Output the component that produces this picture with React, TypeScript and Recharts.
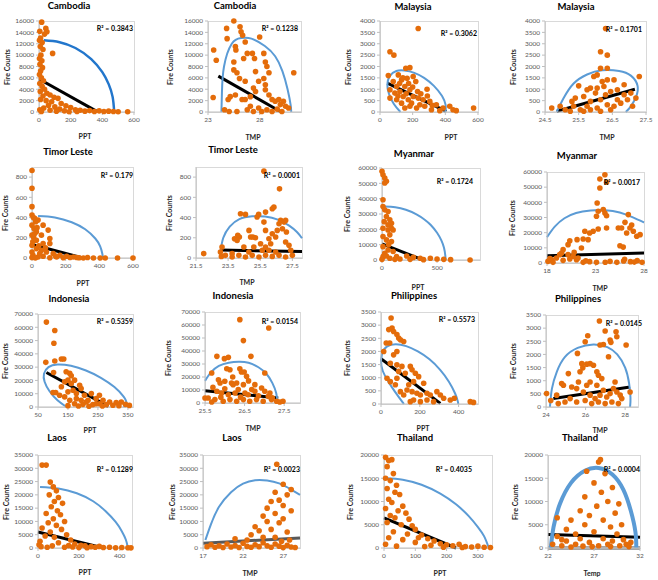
import { ComposedChart, Scatter, Line, XAxis, YAxis } from 'recharts';

type Pt = [number, number];

const FONT = 'Lato, "Open Sans", Arial, sans-serif';
const ORANGE = '#E46C0A';
const BLUE = '#5B9BD5';

// tick sets
const ticks600 = [0, 200, 400, 600];
const ticks16k = [0, 2000, 4000, 6000, 8000, 10000, 12000, 14000, 16000];
const ticks4k = [0, 500, 1000, 1500, 2000, 2500, 3000, 3500, 4000];
const ticks800 = [0, 200, 400, 600, 800];
const ticks60k = [0, 10000, 20000, 30000, 40000, 50000, 60000];
const ticks70k = [0, 10000, 20000, 30000, 40000, 50000, 60000, 70000];
const ticks3500 = [0, 500, 1000, 1500, 2000, 2500, 3000, 3500];
const ticks35k = [0, 5000, 10000, 15000, 20000, 25000, 30000, 35000];
const ticks20k = [0, 5000, 10000, 15000, 20000];

// ---- Cambodia ----
const cambodiaPpt: Pt[] = [
  [17, 15800], [43, 14700], [50, 14100], [5, 14200], [35, 13700], [10, 13000], [3, 12600], [20, 12200],
  [8, 11500], [25, 11000], [86, 10300], [12, 10000], [3, 9400], [18, 9000], [6, 8400], [22, 7800],
  [10, 7200], [3, 6600], [15, 6000], [28, 5500], [5, 5000], [20, 4500], [35, 4000], [8, 3600],
  [50, 3300], [70, 3000], [25, 2800], [95, 2600], [120, 2400], [10, 2200], [45, 2000], [80, 1800],
  [140, 1500], [60, 1200], [170, 1100], [100, 900], [200, 800], [30, 700], [5, 400], [130, 500],
  [230, 400], [70, 300], [160, 200], [260, 300], [290, 150], [320, 250], [350, 100], [380, 200],
  [410, 100], [440, 150], [470, 80], [500, 50], [560, 50], [15, 100], [110, 150], [190, 50], [240, 100],
];
const cambodiaPptTrend: Pt[] = [[0, 5800], [365, 100]];
const cambodiaPptArc: Pt[] = [
  [30, 12600], [130, 12280], [230, 11250], [330, 9310], [400, 7000], [440, 4900], [465, 2660], [475, 0],
];

const cambodiaTmp: Pt[] = [
  [23.5, 2560], [23.55, 10900], [23.8, 9100], [24.8, 14700], [24.85, 12900], [25.5, 16000], [26.1, 15000],
  [26.2, 14100], [26.35, 13500], [25.65, 11500], [25.7, 10900], [26.6, 12300], [26.8, 10300], [26.45, 9400],
  [25.5, 8800], [25.8, 6900], [25.5, 7400], [26.05, 5900], [26.6, 5400], [27.3, 10300], [27.5, 9400],
  [28.0, 13200], [27.6, 7100], [28.4, 10300], [28.55, 8800], [28.7, 8000], [28.9, 6900], [28.4, 5900],
  [28.55, 4800], [27.9, 5400], [27.4, 4200], [27.6, 3600], [28.55, 3900], [28.9, 3000], [29.2, 2200],
  [29.5, 1900], [29.85, 2200], [30.3, 1900], [30.5, 1000], [30.0, 1300], [31.3, 6900], [24.95, 2200],
  [25.15, 2700], [25.65, 3000], [26.3, 2200], [24.6, 400], [25.05, 100], [25.8, 100], [26.8, 400],
  [27.1, 1000], [27.4, 100], [27.9, 700], [28.2, 100], [28.7, 400], [29.2, 100], [29.7, 500], [30.15, 100],
  [30.8, 700], [26.6, 2200], [27.1, 2700],
];
const cambodiaTmpTrend: Pt[] = [[24.0, 6300], [30.0, 100]];
const cambodiaTmpArc: Pt[] = [
  [24.3, 0], [24.35, 3500], [24.55, 8000], [25.3, 12000], [26.2, 13000], [27.2, 12900], [28.5, 11600],
  [29.5, 9800], [30.2, 7200], [30.7, 4000], [31.0, 1200], [31.05, 0],
];

// ---- Malaysia ----
const malaysiaPpt: Pt[] = [
  [61, 2650], [85, 2500], [158, 1920], [183, 1950], [234, 3670], [51, 1600], [112, 1630], [132, 1410],
  [166, 1480], [203, 1560], [219, 1340], [288, 1000], [81, 1340], [102, 1120], [61, 975], [122, 900],
  [152, 1120], [183, 975], [142, 680], [173, 540], [203, 680], [234, 610], [264, 540], [305, 465],
  [345, 320], [386, 175], [427, 250], [447, 100], [467, 60], [573, 175], [102, 540], [132, 390],
  [183, 250], [224, 175], [274, 250], [315, 100], [366, 60], [193, 390], [244, 320], [152, 175],
  [61, 610], [91, 830], [120, 1250], [140, 1500], [175, 1250], [200, 1100], [250, 800], [230, 900],
  [290, 700], [320, 300], [160, 800], [110, 700],
];
const malaysiaPptTrend: Pt[] = [[45, 1270], [406, 30]];
const malaysiaPptArc: Pt[] = [
  [125, 0], [85, 350], [55, 800], [45, 1200], [60, 1580], [100, 1800], [150, 1820], [210, 1720],
  [270, 1500], [330, 1150], [380, 700], [402, 300], [400, 0],
];

const malaysiaTmp: Pt[] = [
  [26.3, 3670], [26.15, 2650], [26.35, 2500], [26.15, 1920], [26.35, 1920], [25.95, 1560], [26.05, 1630],
  [26.55, 1410], [26.35, 1410], [25.5, 1150], [27.3, 1560], [27.2, 610], [25.85, 1050], [26.0, 830],
  [25.65, 680], [25.4, 610], [25.35, 250], [24.7, 175], [24.95, 250], [25.1, 100], [25.25, 30],
  [25.55, 100], [25.75, 250], [25.85, 465], [26.15, 540], [26.3, 760], [26.45, 900], [26.65, 975],
  [26.85, 760], [26.95, 540], [26.75, 390], [26.55, 250], [26.35, 320], [26.05, 175], [25.85, 100],
  [25.65, 30], [26.85, 1200], [27.05, 830], [27.1, 250], [26.45, 100], [26.15, 30], [26.65, 540],
  [26.25, 1120], [25.75, 975], [25.3, 465], [26.05, 1050], [26.2, 1340],
];
const malaysiaTmpTrend: Pt[] = [[24.85, 30], [27.17, 1000]];
const malaysiaTmpArc: Pt[] = [
  [24.85, 0], [25.05, 600], [25.35, 1250], [25.75, 1650], [26.2, 1830], [26.7, 1800], [27.05, 1600],
  [27.25, 1150], [27.2, 650], [27.05, 250], [26.9, 0],
];

// ---- Timor Leste ----
const timorPpt: Pt[] = [
  [0, 866], [0, 690], [0, 508], [0, 425], [16, 392], [22, 359], [36, 375], [0, 325], [12, 292], [26, 259],
  [0, 226], [10, 202], [66, 325], [96, 276], [56, 226], [26, 176], [106, 193], [66, 143], [106, 143],
  [0, 126], [26, 93], [56, 76], [86, 60], [126, 43], [166, 27], [206, 17], [246, 10], [305, 0], [365, 0],
  [405, 0], [435, 0], [508, 0], [600, 0], [6, 27], [36, 10], [66, 17], [106, 3], [146, 10], [186, 3],
  [226, 5], [266, 5], [0, 60], [46, 43], [5, 160], [15, 240], [30, 300], [8, 400], [40, 120], [80, 100],
  [140, 20], [0, 5], [20, 0], [330, 5], [280, 3],
];
const timorPptTrend: Pt[] = [[0, 133], [295, 3]];
const timorPptArc: Pt[] = [
  [36, 415], [136, 401], [236, 354], [316, 284], [376, 193], [405, 115], [418, 40], [420, 0],
];

const timorTmp: Pt[] = [
  [21.98, 43], [23.02, 59], [23.08, 16], [23.12, 109], [23.9, 190], [24.1, 224], [24.2, 207], [24.27, 438],
  [24.58, 431], [24.48, 109], [24.8, 273], [24.9, 207], [25.04, 207], [25.2, 200], [25.3, 405], [25.4, 431],
  [25.73, 859], [25.73, 355], [25.83, 273], [26.04, 191], [26.15, 141], [26.25, 487], [26.35, 503],
  [25.83, 109], [26.46, 207], [26.56, 273], [26.67, 339], [26.77, 372], [26.7, 684], [26.88, 290],
  [26.98, 355], [27.08, 372], [27.13, 257], [27.08, 158], [27.29, 125], [27.4, 76], [27.5, 26],
  [23.33, 26], [23.75, 10], [24.17, 26], [24.58, 10], [25.0, 26], [25.42, 10], [25.83, 26], [26.25, 16],
  [26.67, 26], [27.08, 10], [23.75, 43], [24.79, 59], [25.63, 76], [26.46, 59], [26.04, 76], [25.52, 141],
  [25.1, 109], [24.06, 174], [26.25, 240], [25.83, 454],
];
const timorTmpTrend: Pt[] = [[23.0, 78], [28.1, 65]];
const timorTmpArc: Pt[] = [
  [23.02, 60], [23.2, 200], [23.6, 310], [24.2, 385], [25.0, 412], [25.8, 410], [26.6, 380], [27.3, 320],
  [27.8, 255], [28.1, 195],
];

// ---- Myanmar ----
const myanmarPpt: Pt[] = [
  [0, 57800], [9, 55600], [25, 53500], [40, 51300], [25, 50200], [9, 39300], [9, 34900], [25, 32700],
  [55, 31600], [40, 28400], [71, 26200], [55, 22900], [86, 24000], [9, 20700], [55, 19600], [86, 20700],
  [101, 19600], [71, 16400], [9, 15300], [40, 13100], [86, 12000], [9, 8700], [55, 6500], [101, 5500],
  [25, 4400], [9, 2200], [132, 2200], [224, 2600], [285, 1700], [347, 1100], [439, 1100], [500, 650],
  [561, 440], [623, 220], [800, 0], [71, 1100], [163, 650], [255, 440], [377, 220], [0, 440], [117, 440],
  [40, 2600], [20, 25000], [60, 10000],
];
const myanmarPptTrend: Pt[] = [[0, 10500], [365, 200]];
const myanmarPptArc: Pt[] = [
  [25, 34900], [121, 34370], [217, 32730], [313, 29780], [385, 26450], [443, 22830], [500, 17760],
  [539, 12780], [563, 7950], [575, 2900], [577, 0],
];

const myanmarTmp: Pt[] = [
  [23.97, 58200], [23.45, 55400], [24.14, 53200], [23.45, 49500], [23.17, 39600], [23.28, 34100],
  [23.8, 35200], [23.97, 33000], [24.14, 31200], [23.1, 30800], [24.14, 23100], [23.28, 22400],
  [22.76, 20900], [22.4, 19800], [21.9, 20900], [21.73, 15800], [22.24, 15400], [21.1, 15400],
  [20.35, 14700], [20.17, 12100], [21.55, 9900], [19.66, 8800], [19.31, 5500], [20.17, 5500], [20.7, 4400],
  [18.97, 3300], [18.45, 2200], [18.1, 1100], [18.62, 440], [19.66, 1760], [21.04, 2200], [21.73, 440],
  [22.4, 880], [23.1, 440], [24.5, 1100], [25.2, 440], [25.9, 1320], [26.6, 880], [27.3, 1540], [27.8, 440],
  [25.35, 23100], [25.69, 23100], [25.52, 11400], [25.86, 10500], [26.21, 19800], [26.04, 26800],
  [26.38, 31900], [26.55, 23100], [26.73, 25100], [27.25, 17600], [27.6, 18700], [26.9, 20900],
  [21.2, 3300], [20.35, 2600], [19.5, 6500], [20.8, 7000], [18.3, 3000], [22.0, 1500], [24.0, 500],
  [26.0, 2500], [27.0, 600],
];
const myanmarTmpTrend: Pt[] = [[18, 4800], [28, 6600]];
const myanmarTmpArc: Pt[] = [
  [18, 17000], [18.8, 24000], [19.8, 29500], [21, 33000], [22.5, 34600], [24, 34800], [25.5, 33300],
  [26.8, 30200], [28, 26700],
];

// ---- Indonesia ----
const indonesiaPpt: Pt[] = [
  [78, 63900], [106, 57600], [103, 48000], [106, 34600], [76, 33600], [128, 36100], [136, 36100],
  [102, 26000], [144, 26500], [156, 25300], [161, 23500], [100, 10900], [109, 10900], [139, 19000],
  [150, 20200], [161, 17700], [189, 16400], [194, 13900], [167, 12600], [150, 11400], [178, 10100],
  [139, 7600], [156, 5100], [178, 6300], [205, 8800], [228, 10100], [217, 5100], [244, 6300], [255, 8800],
  [267, 5100], [289, 3800], [311, 3300], [328, 3800], [342, 2000], [172, 2500], [200, 2000], [233, 1800],
  [256, 2500], [278, 1800], [300, 1300], [194, 5100], [122, 8800], [128, 15200], [172, 20200],
  [211, 3800], [244, 2500], [150, 1000], [185, 800], [220, 600], [265, 700], [320, 900], [355, 1200],
];
const indonesiaPptTrend: Pt[] = [[78, 26000], [285, 500]];
const indonesiaPptArc: Pt[] = [
  [145, 0], [115, 5000], [88, 12000], [72, 19000], [70, 25000], [85, 30000], [115, 32000], [160, 31000],
  [210, 27500], [260, 22000], [305, 15000], [335, 8000], [345, 3000], [335, 0],
];

const indonesiaTmp: Pt[] = [
  [26.38, 64100], [27.11, 57700], [26.47, 48000], [25.8, 35900], [25.99, 34100], [26.09, 35100],
  [26.66, 35900], [25.67, 23100], [26.05, 26400], [26.13, 25600], [26.38, 26400], [26.42, 23800],
  [26.49, 23800], [26.55, 20500], [26.47, 14100], [25.84, 17900], [25.88, 15400], [26.0, 16700],
  [26.17, 15400], [26.21, 14100], [26.3, 15400], [27.01, 23100], [26.76, 14100], [26.68, 10300],
  [26.76, 9000], [26.93, 11500], [27.01, 9000], [27.1, 5100], [27.14, 7700], [25.8, 9000], [25.92, 7700],
  [26.09, 6400], [26.26, 7700], [26.34, 10300], [26.51, 7700], [26.59, 6400], [25.58, 3800], [25.75, 2600],
  [25.96, 1300], [26.13, 2600], [26.3, 1300], [26.47, 2600], [26.63, 1300], [26.8, 2600], [26.97, 1300],
  [27.18, 2600], [27.31, 1300], [27.39, 800], [27.47, 1300], [25.67, 800], [25.5, 3800], [25.7, 12000],
  [26.0, 11000], [26.2, 20000], [26.6, 17000], [27.2, 4000], [25.9, 4500], [26.4, 4500], [26.85, 5500],
];
const indonesiaTmpTrend: Pt[] = [[25.5, 9500], [27.35, 3800]];
const indonesiaTmpArc: Pt[] = [
  [25.5, 17000], [25.65, 23500], [25.85, 28500], [26.1, 31000], [26.35, 31800], [26.6, 31000],
  [26.85, 27500], [27.05, 22500], [27.2, 15500], [27.3, 7500], [27.33, 0],
];

// ---- Philippines ----
const philippinesPpt: Pt[] = [
  [52, 3270], [40, 2830], [57, 2890], [65, 2760], [27, 2320], [45, 2320], [82, 2640], [91, 2510],
  [100, 2440], [117, 2380], [82, 2000], [14, 2000], [65, 1870], [82, 1490], [48, 1550], [108, 1430],
  [151, 1430], [160, 1300], [177, 1170], [194, 1040], [220, 790], [31, 980], [48, 850], [74, 730],
  [100, 470], [117, 340], [143, 730], [168, 850], [134, 530], [160, 470], [185, 410], [203, 340],
  [237, 410], [254, 340], [288, 470], [306, 340], [323, 220], [357, 150], [378, 220], [460, 90],
  [477, 60], [168, 150], [203, 90], [237, 150], [271, 90], [151, 90], [82, 980], [125, 1170], [91, 1240],
];
const philippinesPptTrend: Pt[] = [[0, 1720], [306, 25]];
const philippinesPptArc: Pt[] = [
  [118, 0], [90, 280], [55, 650], [22, 1050], [2, 1450], [5, 1900], [30, 2180], [75, 2270], [130, 2200],
  [190, 2000], [250, 1700], [305, 1300], [350, 850], [382, 400], [396, 100], [398, 0],
];

const philippinesTmp: Pt[] = [
  [26.7, 3270], [26.99, 2890], [27.54, 2860], [27.58, 2670], [27.24, 2550], [27.28, 2460], [26.11, 2710],
  [25.98, 2480], [26.9, 2380], [26.73, 2360], [28.05, 2360], [25.59, 2040], [26.23, 1650], [25.81, 1650],
  [25.86, 1490], [26.06, 1630], [26.4, 1590], [26.57, 1340], [26.65, 1210], [26.82, 1080], [27.16, 1910],
  [25.72, 1340], [25.64, 950], [26.06, 830], [26.23, 950], [26.57, 830], [26.9, 640], [25.13, 1270],
  [24.79, 890], [24.88, 830], [24.03, 510], [24.24, 250], [24.54, 450], [25.3, 760], [25.55, 700],
  [25.89, 570], [26.23, 450], [26.48, 320], [26.73, 450], [27.07, 380], [27.24, 510], [27.41, 700],
  [27.49, 950], [27.58, 570], [27.75, 450], [27.83, 320], [28.25, 570], [25.22, 320], [25.55, 190],
  [25.98, 250], [26.31, 130], [26.65, 190], [26.99, 130], [27.33, 190], [27.66, 130], [24.96, 190],
  [24.62, 130],
];
const philippinesTmpTrend: Pt[] = [[24.37, 320], [28.25, 760]];
const philippinesTmpArc: Pt[] = [
  [24.2, 0], [24.3, 700], [24.55, 1350], [24.95, 1900], [25.6, 2250], [26.4, 2380], [27.1, 2280],
  [27.6, 2000], [28.0, 1500], [28.2, 900], [28.27, 350], [28.25, 0],
];

// ---- Laos ----
const laosPpt: Pt[] = [
  [20, 31200], [40, 31200], [60, 24800], [75, 23000], [90, 21500], [55, 20000], [100, 19000], [80, 17500],
  [120, 16800], [65, 15500], [95, 14000], [40, 13000], [110, 12500], [75, 11000], [130, 10000], [50, 9500],
  [90, 8500], [20, 7500], [115, 7000], [60, 6000], [140, 5000], [35, 4500], [80, 4000], [160, 3000],
  [10, 2500], [100, 2000], [180, 1500], [210, 1000], [230, 800], [260, 500], [280, 300], [300, 600],
  [320, 200], [350, 300], [380, 100], [410, 200], [440, 100], [455, 50], [15, 500], [45, 300], [70, 800],
  [130, 300], [200, 200], [240, 100], [5, 1200], [150, 900], [170, 400],
];
const laosPptTrend: Pt[] = [[0, 6000], [320, 0]];
const laosPptArc: Pt[] = [
  [10, 23000], [100, 22400], [190, 20600], [270, 17600], [330, 13900], [380, 9800], [410, 6300],
  [430, 3100], [440, 0],
];

const laosTmp: Pt[] = [
  [17.5, 500], [18, 1200], [18.5, 300], [19, 800], [19.5, 200], [20, 1500], [20.5, 400], [21, 900],
  [21.5, 200], [22, 1800], [22.5, 600], [23, 300], [23.5, 1200], [24, 500], [24.5, 2000], [25, 800],
  [25.5, 300], [26, 1500], [26.5, 700], [27, 200], [27.5, 1000], [28, 400], [28.5, 200], [23, 5000],
  [23.5, 8000], [24, 6500], [24.5, 12000], [25, 10000], [25, 15000], [25.5, 17500], [25.5, 7000],
  [26, 21000], [26, 13000], [26.5, 18000], [26.5, 9500], [27, 24000], [27, 16000], [27, 11000],
  [27.5, 20000], [27.5, 6000], [28, 14000], [28, 22000], [26.2, 31500], [24.5, 4000], [22.5, 3000],
  [21, 3500], [26, 4000], [26.8, 2500], [27.8, 3000],
];
const laosTmpTrend: Pt[] = [[17, 1800], [29.1, 3800]];
const laosTmpArc: Pt[] = [
  [17.3, 3000], [18, 9000], [19, 15500], [20.5, 21000], [22, 24200], [23.5, 25500], [25, 25400],
  [26.5, 24300], [28, 22000], [29.1, 20000],
];

// ---- Thailand ----
const thailandPpt: Pt[] = [
  [5, 19500], [15, 18800], [25, 19000], [10, 17500], [30, 16000], [5, 15000], [20, 14500], [40, 13500],
  [10, 12800], [35, 12000], [50, 11500], [15, 10500], [25, 9800], [60, 9000], [5, 8500], [45, 8000],
  [70, 7500], [20, 7000], [35, 6500], [80, 6200], [10, 5500], [55, 5000], [90, 4800], [100, 4000],
  [30, 3500], [75, 3000], [120, 2800], [15, 2200], [140, 2000], [60, 1800], [160, 1500], [100, 1200],
  [180, 900], [200, 700], [220, 500], [240, 800], [260, 300], [280, 200], [300, 400], [320, 150],
  [340, 100], [5, 800], [40, 400], [130, 300], [190, 150], [110, 2200], [150, 600], [250, 100],
];
const thailandPptTrend: Pt[] = [[0, 6500], [230, 0]];
const thailandPptArc: Pt[] = [
  [5, 15000], [60, 14700], [120, 13600], [180, 11700], [230, 9400], [270, 6900], [300, 4500],
  [320, 2500], [335, 0],
];

const thailandTemp: Pt[] = [
  [22.5, 800], [23, 2500], [23.5, 500], [24, 4000], [24, 1500], [24.5, 6000], [25, 3000], [25, 800],
  [25.5, 8000], [25.5, 2000], [26, 5000], [26, 11000], [26.5, 1200], [26.5, 7000], [27, 14000],
  [27, 3500], [27.3, 9000], [27.5, 18500], [27.7, 19000], [27.8, 12000], [28, 6000], [28, 2000],
  [28.2, 16000], [28.5, 10000], [28.5, 800], [28.8, 4500], [29, 13000], [29, 1500], [29.3, 7500],
  [29.5, 3000], [29.8, 500], [30, 5000], [30.2, 1800], [30.5, 800], [31, 1200], [26.8, 300], [25.8, 400],
  [24.5, 200], [23.5, 1800], [27.5, 500], [28.8, 300], [30.8, 300], [23, 6500], [26.2, 16500], [29.7, 9500],
];
const thailandTempTrend: Pt[] = [[22, 2900], [32, 2300]];
const thailandTempBase: Pt[] = [[22, 0], [32, 0]];
const thailandTempArc: Pt[] = [
  [22.3, 0], [22.6, 4500], [23.3, 9500], [24.5, 14000], [26, 16600], [27.5, 17200], [29, 15800],
  [30.2, 12500], [31, 8000], [31.5, 3500], [31.6, 0],
];

interface PanelCfg {
  title: string;
  xLabel: string;
  r2: string;
  box: [number, number, number, number]; // plot left, right, top, bottom
  xDomain: [number, number];
  xTicks: number[];
  yMax: number;
  yTicks: number[];
  points: Pt[];
  trend: Pt[];
  arc: Pt[];
  base?: Pt[];
  titleAt: [number, number];
  yLabelX: number;
  xLabelAt: [number, number];
  r2At: [number, number];
  arcColor?: string;
  arcWidth?: number;
  trendColor?: string;
}

const panels: PanelCfg[] = [
  { title: 'Cambodia', xLabel: 'PPT', r2: '0.3843', box: [39, 134, 21, 112], xDomain: [0, 600], xTicks: ticks600,
    yMax: 16000, yTicks: ticks16k, points: cambodiaPpt, trend: cambodiaPptTrend, arc: cambodiaPptArc,
    titleAt: [69, 6], yLabelX: 7, xLabelAt: [85, 136], r2At: [133, 28], arcColor: '#2276CC', arcWidth: 2.5 },
  { title: 'Cambodia', xLabel: 'TMP', r2: '0.1238', box: [208, 301, 21, 112], xDomain: [23, 32], xTicks: [23, 28],
    yMax: 16000, yTicks: ticks16k, points: cambodiaTmp, trend: cambodiaTmpTrend, arc: cambodiaTmpArc,
    titleAt: [235, 6], yLabelX: 170, xLabelAt: [253, 137], r2At: [298, 28] },
  { title: 'Malaysia', xLabel: 'PPT', r2: '0.3062', box: [380, 478, 21, 112], xDomain: [0, 600], xTicks: ticks600,
    yMax: 4000, yTicks: ticks4k, points: malaysiaPpt, trend: malaysiaPptTrend, arc: malaysiaPptArc,
    titleAt: [413, 7], yLabelX: 348, xLabelAt: [451, 137], r2At: [477, 33] },
  { title: 'Malaysia', xLabel: 'TMP', r2: '0.1701', box: [545, 646, 21, 112], xDomain: [24.5, 27.5],
    xTicks: [24.5, 25.5, 26.5, 27.5], yMax: 4000, yTicks: ticks4k, points: malaysiaTmp, trend: malaysiaTmpTrend,
    arc: malaysiaTmpArc, titleAt: [576, 7], yLabelX: 513, xLabelAt: [607, 137], r2At: [642, 29] },

  { title: 'Timor Leste', xLabel: 'PPT', r2: '0.179', box: [32, 133, 167, 258], xDomain: [0, 600], xTicks: ticks600,
    yMax: 900, yTicks: ticks800, points: timorPpt, trend: timorPptTrend, arc: timorPptArc,
    titleAt: [68, 152], yLabelX: 5, xLabelAt: [83, 283], r2At: [133, 175] },
  { title: 'Timor Leste', xLabel: 'TMP', r2: '0.0001', box: [196, 302, 167, 258], xDomain: [21.5, 28.1],
    xTicks: [21.5, 23.5, 25.5, 27.5], yMax: 900, yTicks: ticks800, points: timorTmp, trend: timorTmpTrend,
    arc: timorTmpArc, titleAt: [233, 150], yLabelX: 169, xLabelAt: [247, 282], r2At: [300, 175] },
  { title: 'Myanmar', xLabel: 'PPT', r2: '0.1724', box: [382, 480, 168, 260], xDomain: [0, 890], xTicks: [0, 500],
    yMax: 60000, yTicks: ticks60k, points: myanmarPpt, trend: myanmarPptTrend, arc: myanmarPptArc,
    titleAt: [414, 154], yLabelX: 347, xLabelAt: [418, 287], r2At: [473, 181] },
  { title: 'Myanmar', xLabel: 'TMP', r2: '0.0017', box: [547, 644, 172, 263], xDomain: [18, 28], xTicks: [18, 23, 28],
    yMax: 60000, yTicks: ticks60k, points: myanmarTmp, trend: myanmarTmpTrend, arc: myanmarTmpArc,
    titleAt: [577, 156], yLabelX: 512, xLabelAt: [600, 288], r2At: [640, 182] },

  { title: 'Indonesia', xLabel: 'PPT', r2: '0.5359', box: [38, 133, 314, 407], xDomain: [50, 367],
    xTicks: [50, 150, 250, 350], yMax: 70000, yTicks: ticks70k, points: indonesiaPpt, trend: indonesiaPptTrend,
    arc: indonesiaPptArc, titleAt: [69, 299], yLabelX: 5, xLabelAt: [90, 430], r2At: [133, 321] },
  { title: 'Indonesia', xLabel: 'TMP', r2: '0.0154', box: [205, 300, 312, 403], xDomain: [25.5, 27.9],
    xTicks: [25.5, 26.5, 27.5], yMax: 70000, yTicks: ticks70k, points: indonesiaTmp, trend: indonesiaTmpTrend,
    arc: indonesiaTmpArc, titleAt: [233, 296], yLabelX: 168, xLabelAt: [253, 428], r2At: [298, 321] },
  { title: 'Philippines', xLabel: 'PPT', r2: '0.5573', box: [381, 478, 312, 404], xDomain: [0, 500],
    xTicks: [0, 200, 400], yMax: 3500, yTicks: ticks3500, points: philippinesPpt, trend: philippinesPptTrend,
    arc: philippinesPptArc, titleAt: [414, 296], yLabelX: 347, xLabelAt: [423, 428], r2At: [475, 319] },
  { title: 'Philippines', xLabel: 'TMP', r2: '0.0145', box: [546, 638, 315, 407], xDomain: [24, 28.65],
    xTicks: [24, 26, 28], yMax: 3500, yTicks: ticks3500, points: philippinesTmp, trend: philippinesTmpTrend,
    arc: philippinesTmpArc, titleAt: [578, 299], yLabelX: 513, xLabelAt: [600, 430], r2At: [642, 323] },

  { title: 'Laos', xLabel: 'PPT', r2: '0.1289', box: [38, 132, 455, 548], xDomain: [0, 460], xTicks: [0, 200, 400],
    yMax: 35000, yTicks: ticks35k, points: laosPpt, trend: laosPptTrend, arc: laosPptArc,
    titleAt: [57, 438], yLabelX: 6, xLabelAt: [85, 572], r2At: [133, 469] },
  { title: 'Laos', xLabel: 'TMP', r2: '0.0023', box: [203, 300, 455, 548], xDomain: [17, 29.1], xTicks: [17, 22, 27],
    yMax: 35000, yTicks: ticks35k, points: laosTmp, trend: laosTmpTrend, arc: laosTmpArc,
    titleAt: [232, 438], yLabelX: 172, xLabelAt: [250, 573], r2At: [300, 469], trendColor: '#595959' },
  { title: 'Thailand', xLabel: 'PPT', r2: '0.4035', box: [384, 492, 455, 548], xDomain: [0, 345],
    xTicks: [0, 100, 200, 300], yMax: 20000, yTicks: ticks20k, points: thailandPpt, trend: thailandPptTrend,
    arc: thailandPptArc, titleAt: [415, 438], yLabelX: 350, xLabelAt: [440, 573], r2At: [472, 469] },
  { title: 'Thailand', xLabel: 'Temp', r2: '0.0004', box: [548, 640, 455, 548], xDomain: [22, 32],
    xTicks: [22, 27, 32], yMax: 20000, yTicks: ticks20k, points: thailandTemp, trend: thailandTempTrend,
    arc: thailandTempArc, base: thailandTempBase, titleAt: [580, 438], yLabelX: 515, xLabelAt: [592, 573],
    r2At: [640, 469], arcWidth: 4 },
];

const xy = (a: Pt[]) => a.map(([x, y]) => ({ x, y }));

const PAD_L = 34;
const PAD_T = 4;
const PAD_R = 12;
const PAD_B = 16;

const TICK = { fontSize: 6.5, fill: '#595959', fontFamily: FONT };
const AXIS = { stroke: '#bfbfbf' };

const dot = (props: any) => <circle cx={props.cx} cy={props.cy} r={2.8} fill={ORANGE} />;

const label = (x: number, y: number, size: number, extra: any = {}) => ({
  position: 'absolute' as const,
  left: x,
  top: y,
  transform: 'translate(-50%, -50%)',
  fontFamily: FONT,
  fontSize: size,
  fontWeight: 700,
  color: '#262626',
  whiteSpace: 'nowrap' as const,
  lineHeight: 1,
  ...extra,
});

function Panel({ c }: { c: PanelCfg }) {
  const [l, r, t, b] = c.box;
  const w = r - l;
  const h = b - t;
  return (
    <>
      <div style={{ position: 'absolute', left: l, top: t, width: w + 1, height: h + 1,
        border: '1px solid #d9d9d9', boxSizing: 'border-box' }} />
      <div style={{ position: 'absolute', left: l - PAD_L, top: t - PAD_T }}>
        <ComposedChart width={w + PAD_L + PAD_R} height={h + PAD_T + PAD_B}
          margin={{ top: PAD_T, right: PAD_R, bottom: 0, left: 0 }}>
          <XAxis type="number" dataKey="x" domain={c.xDomain} ticks={c.xTicks} interval={0} height={PAD_B}
            tick={TICK} tickSize={3} tickLine={AXIS} axisLine={AXIS} />
          <YAxis type="number" dataKey="y" domain={[0, c.yMax]} ticks={c.yTicks} interval={0} width={PAD_L}
            tick={TICK} tickSize={3} tickLine={AXIS} axisLine={AXIS} />
          <Scatter data={xy(c.points)} shape={dot} isAnimationActive={false} />
          {c.base && (
            <Line data={xy(c.base)} dataKey="y" type="linear" stroke="#a6a6a6" strokeWidth={4}
              dot={false} activeDot={false} isAnimationActive={false} />
          )}
          <Line data={xy(c.trend)} dataKey="y" type="linear" stroke={c.trendColor ?? '#000'} strokeWidth={3}
            dot={false} activeDot={false} isAnimationActive={false} />
          <Line data={xy(c.arc)} dataKey="y" type="natural" stroke={c.arcColor ?? BLUE} strokeWidth={c.arcWidth ?? 2}
            dot={false} activeDot={false} isAnimationActive={false} />
        </ComposedChart>
      </div>
      <div style={label(c.titleAt[0], c.titleAt[1], 9.5, { color: '#000' })}>{c.title}</div>
      <div style={label(c.xLabelAt[0], c.xLabelAt[1], 7)}>{c.xLabel}</div>
      <div style={label(c.yLabelX, (t + b) / 2, 7, { transform: 'translate(-50%, -50%) rotate(-90deg)' })}>
        Fire Counts
      </div>
      <div style={label(c.r2At[0], c.r2At[1], 7, { transform: 'translate(-100%, -50%)', color: '#000' })}>
        R² = {c.r2}
      </div>
    </>
  );
}

export default function App() {
  return (
    <div style={{ position: 'absolute', left: 0, top: 0, width: 658, height: 580, background: '#fff', overflow: 'hidden' }}>
      {panels.map((c, i) => (
        <Panel key={i} c={c} />
      ))}
    </div>
  );
}
